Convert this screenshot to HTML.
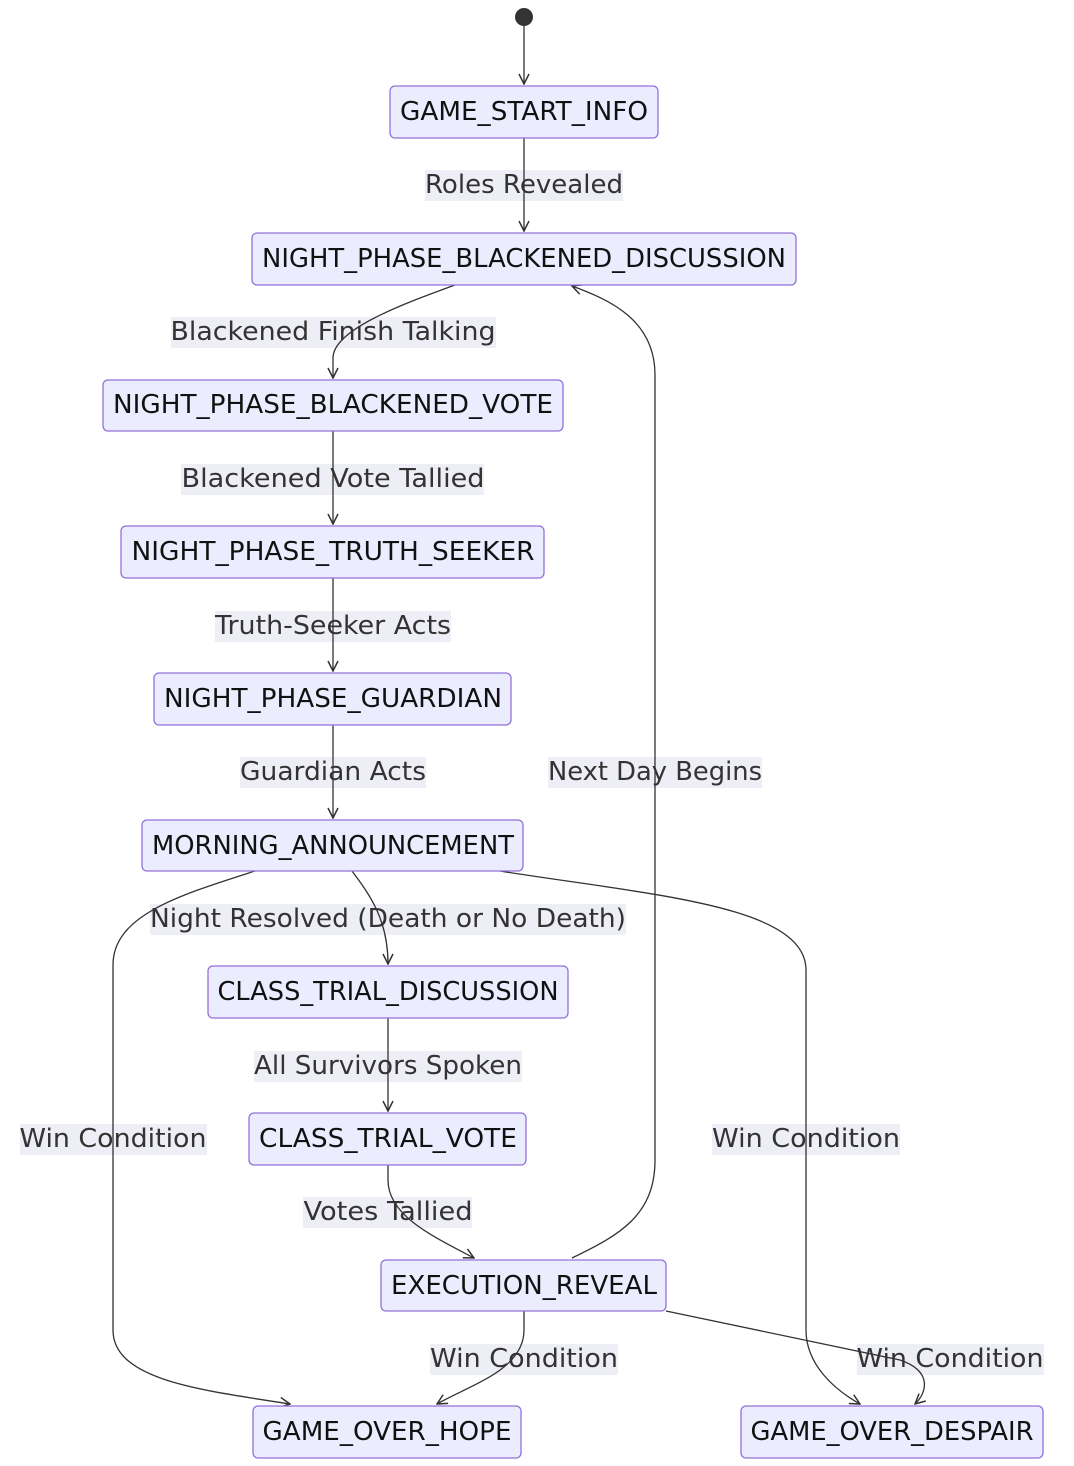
<!DOCTYPE html>
<html><head><meta charset="utf-8"><style>
html,body{margin:0;padding:0;background:#fff;}
svg{display:block;font-family:"DejaVu Sans","Liberation Sans",sans-serif;}
.n{fill:#ECECFF;stroke:#9370DB;stroke-width:1.3;}
.nt{font-size:26px;fill:#111;text-anchor:middle;dominant-baseline:central;}
.lb{fill:#E8E8F4;opacity:0.75;}
.lt{font-size:26px;fill:#333;text-anchor:middle;dominant-baseline:central;}
.e{fill:none;stroke:#333;stroke-width:1.3;marker-end:url(#a);}
</style></head><body>
<svg width="1074" height="1466" viewBox="0 0 1074 1466">
<defs><marker id="a" viewBox="0 0 12 12" refX="11" refY="6" markerWidth="12" markerHeight="12" markerUnits="userSpaceOnUse" orient="auto"><path d="M1,1 L11,6 L1,11" fill="none" stroke="#333" stroke-width="1.5"/></marker></defs>

<!-- labels -->
<g>
<rect class="lb" x="425" y="170" width="198" height="31"/><text class="lt" x="524" y="185" textLength="198" lengthAdjust="spacingAndGlyphs">Roles Revealed</text>
<rect class="lb" x="171" y="317" width="325" height="31"/><text class="lt" x="333" y="332" textLength="325" lengthAdjust="spacingAndGlyphs">Blackened Finish Talking</text>
<rect class="lb" x="181" y="464" width="303" height="31"/><text class="lt" x="333" y="479" textLength="303" lengthAdjust="spacingAndGlyphs">Blackened Vote Tallied</text>
<rect class="lb" x="215" y="611" width="236" height="31"/><text class="lt" x="333" y="626" textLength="236" lengthAdjust="spacingAndGlyphs">Truth-Seeker Acts</text>
<rect class="lb" x="240" y="757" width="186" height="31"/><text class="lt" x="333" y="772" textLength="186" lengthAdjust="spacingAndGlyphs">Guardian Acts</text>
<rect class="lb" x="548" y="757" width="214" height="31"/><text class="lt" x="655" y="772" textLength="214" lengthAdjust="spacingAndGlyphs">Next Day Begins</text>
<rect class="lb" x="150" y="904" width="476" height="31"/><text class="lt" x="388" y="919" textLength="476" lengthAdjust="spacingAndGlyphs">Night Resolved (Death or No Death)</text>
<rect class="lb" x="254" y="1051" width="268" height="31"/><text class="lt" x="388" y="1066" textLength="268" lengthAdjust="spacingAndGlyphs">All Survivors Spoken</text>
<rect class="lb" x="20" y="1124" width="187" height="31"/><text class="lt" x="113" y="1139" textLength="187" lengthAdjust="spacingAndGlyphs">Win Condition</text>
<rect class="lb" x="712" y="1124" width="188" height="31"/><text class="lt" x="806" y="1139" textLength="188" lengthAdjust="spacingAndGlyphs">Win Condition</text>
<rect class="lb" x="303" y="1197" width="169" height="31"/><text class="lt" x="388" y="1212" textLength="169" lengthAdjust="spacingAndGlyphs">Votes Tallied</text>
<rect class="lb" x="430" y="1344" width="188" height="31"/><text class="lt" x="524" y="1359" textLength="188" lengthAdjust="spacingAndGlyphs">Win Condition</text>
<rect class="lb" x="857" y="1344" width="187" height="31"/><text class="lt" x="950" y="1359" textLength="187" lengthAdjust="spacingAndGlyphs">Win Condition</text>
</g>

<!-- edges -->
<circle cx="524" cy="17" r="9" fill="#333"/>
<path class="e" d="M524,26 L524,84"/>
<path class="e" d="M524,138 L524,231"/>
<path class="e" d="M455,285 C400,305 333,330 333,358 L333,378"/>
<path class="e" d="M333,431 L333,524"/>
<path class="e" d="M333,578 L333,671"/>
<path class="e" d="M333,725 L333,818"/>
<path class="e" d="M352,871 C370,895 388,920 388,964"/>
<path class="e" d="M255,871 C180,895 113,915 113,965 L113,1330 C113,1380 200,1390 290,1404"/>
<path class="e" d="M500,871 C650,895 806,905 806,970 L806,1330 C806,1365 835,1390 860,1404"/>
<path class="e" d="M388,1018 L388,1111"/>
<path class="e" d="M388,1165 L388,1180 C388,1215 430,1235 474,1258"/>
<path class="e" d="M572,1258 C620,1235 655,1215 655,1160 L655,375 C655,320 610,300 572,286"/>
<path class="e" d="M524,1311 L524,1330 C524,1370 470,1385 437,1404"/>
<path class="e" d="M666,1311 L900,1360 C935,1372 925,1395 915,1404"/>

<!-- nodes -->
<rect class="n" x="390" y="86" width="268" height="52" rx="5"/><text class="nt" x="524" y="112" textLength="248" lengthAdjust="spacingAndGlyphs">GAME_START_INFO</text>
<rect class="n" x="252" y="233" width="544" height="52" rx="5"/><text class="nt" x="524" y="259" textLength="524" lengthAdjust="spacingAndGlyphs">NIGHT_PHASE_BLACKENED_DISCUSSION</text>
<rect class="n" x="103" y="380" width="460" height="51" rx="5"/><text class="nt" x="333" y="405" textLength="440" lengthAdjust="spacingAndGlyphs">NIGHT_PHASE_BLACKENED_VOTE</text>
<rect class="n" x="121" y="526" width="423" height="52" rx="5"/><text class="nt" x="333" y="552" textLength="403" lengthAdjust="spacingAndGlyphs">NIGHT_PHASE_TRUTH_SEEKER</text>
<rect class="n" x="154" y="673" width="357" height="52" rx="5"/><text class="nt" x="333" y="699" textLength="338" lengthAdjust="spacingAndGlyphs">NIGHT_PHASE_GUARDIAN</text>
<rect class="n" x="142" y="820" width="381" height="51" rx="5"/><text class="nt" x="333" y="846" textLength="362" lengthAdjust="spacingAndGlyphs">MORNING_ANNOUNCEMENT</text>
<rect class="n" x="208" y="966" width="360" height="52" rx="5"/><text class="nt" x="388" y="992" textLength="341" lengthAdjust="spacingAndGlyphs">CLASS_TRIAL_DISCUSSION</text>
<rect class="n" x="249" y="1113" width="277" height="52" rx="5"/><text class="nt" x="388" y="1139" textLength="258" lengthAdjust="spacingAndGlyphs">CLASS_TRIAL_VOTE</text>
<rect class="n" x="381" y="1260" width="285" height="51" rx="5"/><text class="nt" x="524" y="1286" textLength="266" lengthAdjust="spacingAndGlyphs">EXECUTION_REVEAL</text>
<rect class="n" x="253" y="1406" width="268" height="52" rx="5"/><text class="nt" x="387" y="1432" textLength="249" lengthAdjust="spacingAndGlyphs">GAME_OVER_HOPE</text>
<rect class="n" x="741" y="1406" width="302" height="52" rx="5"/><text class="nt" x="892" y="1432" textLength="283" lengthAdjust="spacingAndGlyphs">GAME_OVER_DESPAIR</text>
</svg>
</body></html>
